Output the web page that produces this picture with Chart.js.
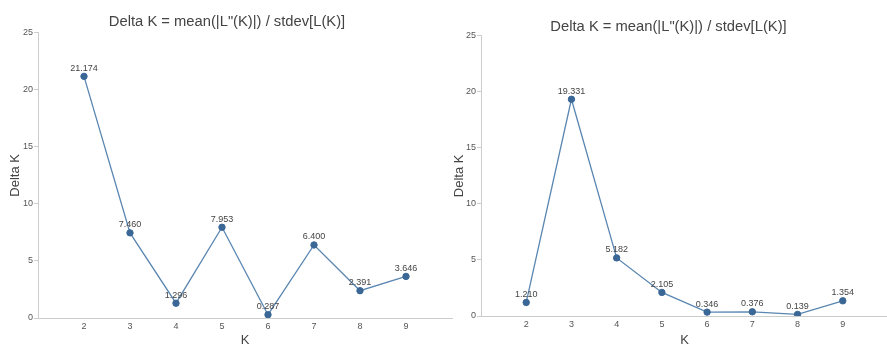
<!DOCTYPE html>
<html>
<head>
<meta charset="utf-8">
<script src="https://cdn.jsdelivr.net/npm/chart.js@4"></script>
<style>
  body { margin: 0; background: #fff; overflow: hidden; }
  .box { position: absolute; top: 0; height: 347px; }
  #left { left: 0; width: 457px; }
  #right { left: 444px; width: 449px; }
</style>
</head>
<body>
<div class="box" id="left"><canvas id="chartLeft"></canvas></div>
<div class="box" id="right"><canvas id="chartRight"></canvas></div>
<script>
const kValues = [2, 3, 4, 5, 6, 7, 8, 9];
const deltaLeft = [21.174, 7.460, 1.296, 7.953, 0.287, 6.400, 2.391, 3.646];
const deltaRight = [1.210, 19.331, 5.182, 2.105, 0.346, 0.376, 0.139, 1.354];
const yTicks = [0, 5, 10, 15, 20, 25];
const titleText = 'Delta K = mean(|L"(K)|) / stdev[L(K)]';

Chart.defaults.font.family = '"Liberation Sans", Arial, sans-serif';

// draws the value above each point
const pointLabels = {
    id: 'pointLabels',
    afterDatasetsDraw(chart) {
        const ctx = chart.ctx;
        const meta = chart.getDatasetMeta(0);
        ctx.save();
        ctx.font = '9px "Liberation Sans", Arial, sans-serif';
        ctx.fillStyle = '#444';
        ctx.textAlign = 'center';
        ctx.textBaseline = 'alphabetic';
        meta.data.forEach((pt, i) => {
            const v = chart.data.datasets[0].data[i].y;
            ctx.fillText(v.toFixed(3), pt.x, pt.y - 5.5);
        });
        ctx.restore();
    }
};

function makeChart(id, values, opts) {
    const points = kValues.map((k, i) => ({ x: k, y: values[i] }));
    return new Chart(document.getElementById(id), {
        type: 'line',
        data: {
            datasets: [{
                data: points,
                borderColor: '#5a86b2',
                borderWidth: 1.3,
                pointBackgroundColor: '#3a6795',
                pointBorderColor: '#3a6795',
                pointBorderWidth: 1,
                pointRadius: 3.2,
                tension: 0
            }]
        },
        options: {
            responsive: true,
            maintainAspectRatio: false,
            animation: false,
            layout: { padding: { left: 0, right: opts.padRight, top: 0, bottom: 0 } },
            plugins: {
                legend: { display: false },
                tooltip: { enabled: false },
                title: {
                    display: true,
                    text: titleText,
                    color: '#444',
                    font: { size: 14.75, weight: 'normal' },
                    padding: { top: opts.titleTop, bottom: opts.titleBottom }
                }
            },
            scales: {
                x: {
                    type: 'linear',
                    min: 1,
                    max: 10,
                    afterBuildTicks: axis => {
                        axis.ticks = kValues.map(k => ({ value: k }));
                    },
                    ticks: { color: '#555', font: { size: 9 }, padding: 3 },
                    grid: { display: true, drawOnChartArea: false, drawTicks: false },
                    border: { color: '#ccc' },
                    title: { display: true, text: 'K', color: '#444', font: { size: 13 }, padding: { top: 0, bottom: -1 } },
                    afterFit: axis => { axis.height = opts.xHeight; }
                },
                y: {
                    min: 0,
                    max: 25,
                    afterBuildTicks: axis => {
                        axis.ticks = yTicks.map(v => ({ value: v }));
                    },
                    ticks: { color: '#555', font: { size: 9 }, padding: 1 },
                    grid: { drawOnChartArea: false, drawTicks: true, tickLength: 4, color: '#ccc' },
                    border: { color: '#ccc' },
                    title: { display: true, text: 'Delta K', color: '#444', font: { size: 13 }, padding: { top: 8, bottom: 0 } },
                    afterFit: axis => { axis.width = opts.yWidth; }
                }
            }
        },
        plugins: [pointLabels]
    });
}

makeChart('chartLeft', deltaLeft, { padRight: 3, titleTop: 13, titleBottom: 2, xHeight: 29, yWidth: 38 });
makeChart('chartRight', deltaRight, { padRight: 0, titleTop: 18, titleBottom: 0, xHeight: 31, yWidth: 37 });
</script>
</body>
</html>
